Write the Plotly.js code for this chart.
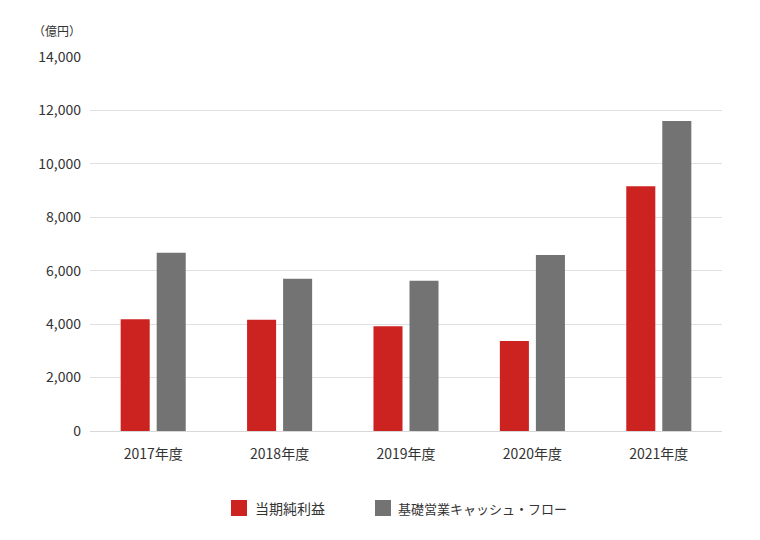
<!DOCTYPE html>
<html>
<head>
<meta charset="utf-8">
<script src="https://cdn.plot.ly/plotly-3.0.1.min.js"></script>
<style>html,body{margin:0;padding:0;background:#fff}#chart{width:760px;height:540px}</style>
</head>
<body>
<div id="chart"></div>
<script>
const categories = ["2017年度", "2018年度", "2019年度", "2020年度", "2021年度"];
const netIncome = [4180, 4160, 3920, 3370, 9160];
const basicCashFlow = [6670, 5700, 5620, 6590, 11600];
const seriesNames = ["当期純利益", "基礎営業キャッシュ・フロー"];
const seriesColors = ["#cc2321", "#737373"];
const yTicks = [0, 2000, 4000, 6000, 8000, 10000, 12000, 14000];
const yTickLabels = ["0", "2,000", "4,000", "6,000", "8,000", "10,000", "12,000", "14,000"];
const unitLabel = "（億円）";

const FONT = "'Noto Sans CJK JP', 'Noto Sans', sans-serif";

const traces = [
  {type: "bar", name: seriesNames[0], x: categories, y: netIncome,
   marker: {color: seriesColors[0]}, hoverinfo: "x+y"},
  {type: "bar", name: seriesNames[1], x: categories, y: basicCashFlow,
   marker: {color: seriesColors[1]}, hoverinfo: "x+y"}
];

// custom legend (bigger squares than Plotly's built-in legend)
const legendSquares = [
  {x0: 0.2231, x1: 0.2484},
  {x0: 0.4509, x1: 0.4763}
];
const legendTextX = [0.2580, 0.4843];
const legendFontSizes = [14, 13];
const legendY0 = -0.2273, legendY1 = -0.1845, legendYc = -0.2059;

const shapes = legendSquares.map((s, i) => ({
  type: "rect", xref: "paper", yref: "paper",
  x0: s.x0, x1: s.x1, y0: legendY0, y1: legendY1,
  fillcolor: seriesColors[i], line: {width: 0}
}));

const annotations = [
  {text: unitLabel, xref: "paper", yref: "paper", x: -0.052, y: 1.07,
   xanchor: "center", yanchor: "middle", showarrow: false,
   font: {family: FONT, size: 12, color: "#333"}}
].concat(seriesNames.map((n, i) => ({
  text: n, xref: "paper", yref: "paper", x: legendTextX[i], y: legendYc,
  xanchor: "left", yanchor: "middle", showarrow: false,
  font: {family: FONT, size: legendFontSizes[i], color: "#333"}
})));

const layout = {
  width: 760, height: 540,
  margin: {l: 90, r: 38, t: 57, b: 109},
  paper_bgcolor: "#fff", plot_bgcolor: "#fff",
  font: {family: FONT, size: 14, color: "#333"},
  barmode: "group",
  bargap: 0.43,
  bargroupgap: 0.194,
  showlegend: false,
  xaxis: {showgrid: false, showline: false, zeroline: false, ticks: "",
          tickfont: {family: FONT, size: 14, color: "#333"}, ticklabelstandoff: 13,
          fixedrange: true},
  yaxis: {range: [0, 14000], tickvals: yTicks, ticktext: yTickLabels,
          showgrid: true, gridcolor: "#e0e0e0", gridwidth: 1,
          zeroline: true, zerolinecolor: "#d8d8d8", zerolinewidth: 1,
          showline: false, ticks: "", ticklabelstandoff: 8,
          tickfont: {family: FONT, size: 14, color: "#333"}, fixedrange: true},
  shapes: shapes,
  annotations: annotations
};

Plotly.newPlot("chart", traces, layout, {displayModeBar: false, staticPlot: true});
</script>
</body>
</html>
